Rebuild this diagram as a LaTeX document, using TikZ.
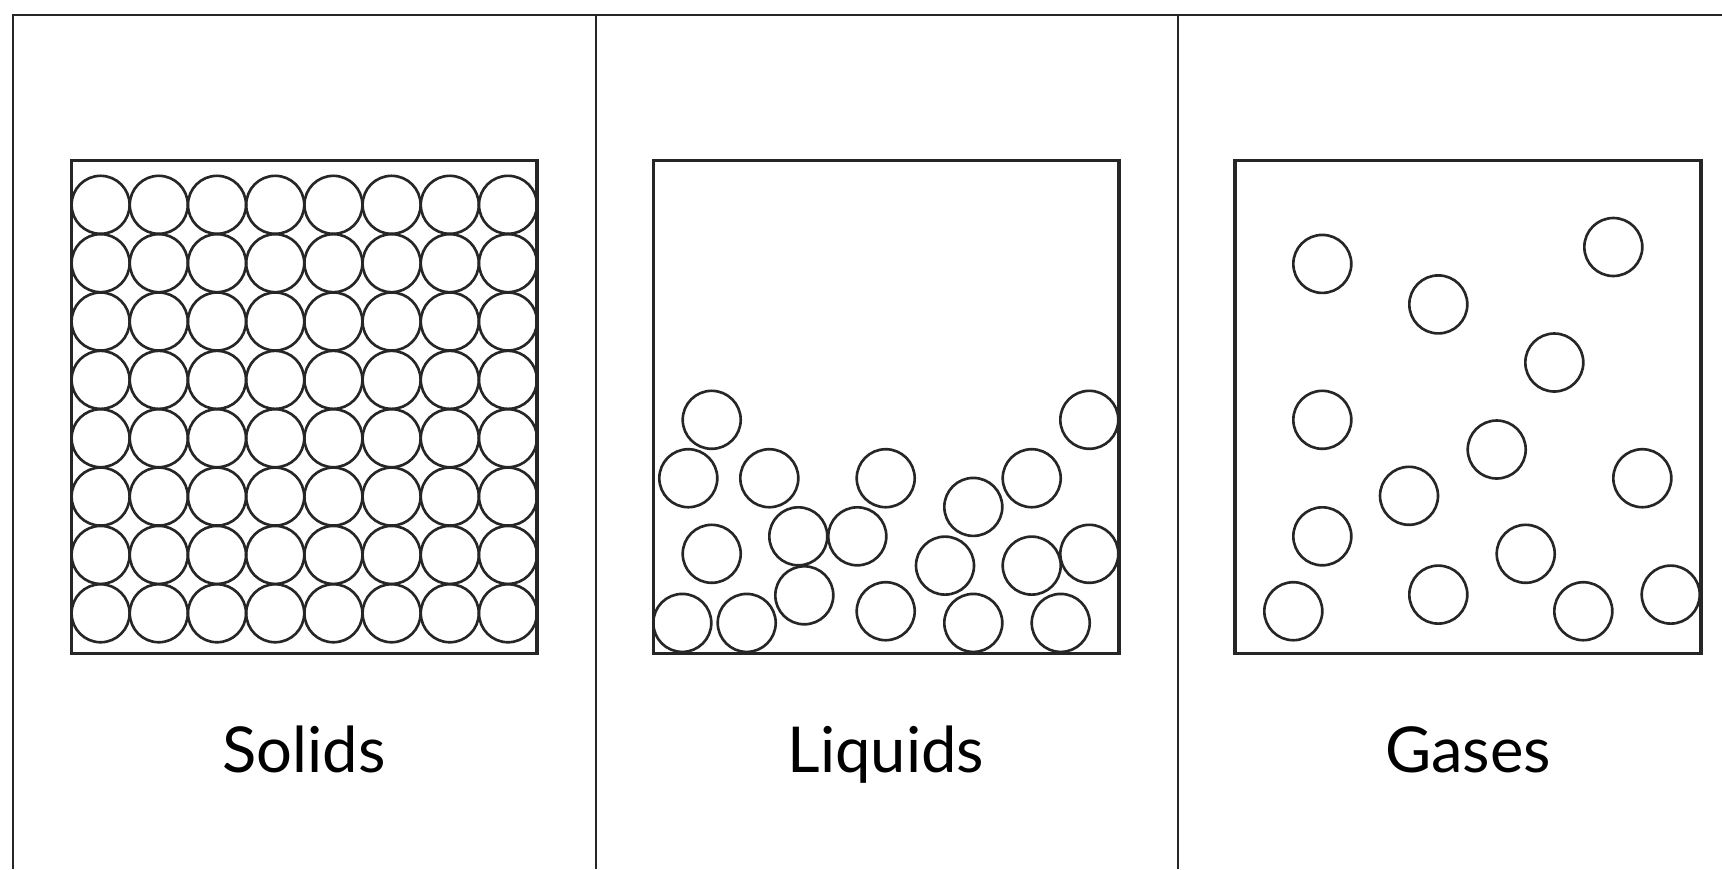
\documentclass[tikz,border=0pt]{standalone}
\usepackage{fontspec}
\setmainfont{Lato}
\usetikzlibrary{positioning}

\begin{document}
\begin{tikzpicture}[
  x=0.01cm, y=-0.01cm,
  frame/.style={draw=black!85, line width=0.8pt},
  vessel/.style={draw=black!85, line width=0.9pt},
  particle/.style={draw=black!85, line width=0.75pt},
  caption/.style={font=\fontsize{18}{20}\selectfont, anchor=base, inner sep=0pt}
]
\useasboundingbox (0,0) rectangle (1722,869);

% panels
\draw[frame] (13,869) -- (13,15) -- (1722,15);
\draw[frame] (596,15) -- (596,869);
\draw[frame] (1178,15) -- (1178,869);

% containers
\draw[vessel] (71.5,160.5) rectangle (537,653.5);
\draw[vessel] (653.5,160.5) rectangle (1119,653.5);
\draw[vessel] (1235,160.5) rectangle (1701,653.5);

% solid: packed lattice
\foreach \i in {0,...,7}
  \foreach \j in {0,...,7}
    \draw[particle] (100.6+58.2*\i, 204.8+58.35*\j) circle (29);

% liquid: loose pile at the bottom
\foreach \px/\py in {711.7/419.8, 688.3/478.2, 769.3/478.2, 885.7/478.2,
    1031.7/478.2, 1089.3/419.8, 711.7/553.8, 798.3/536.3, 857.3/536.3,
    973.3/506.9, 945/565.6, 1031.7/565.6, 1089.3/553.8, 682.3/622.9,
    746.7/622.9, 804.3/595.3, 885.7/611.2, 973.3/622.9, 1060.7/622.9}
  \draw[particle] (\px,\py) circle (29);

% gas: spread out
\foreach \px/\py in {1322.3/263.9, 1438.3/304.4, 1613.3/247, 1554.3/362.5,
    1322.3/419.8, 1496.7/449.5, 1409/495.8, 1642.3/478.2, 1322.3/536.3,
    1525.7/553.8, 1293.3/611.2, 1438.3/594.6, 1583.3/611.2, 1670.7/594.6}
  \draw[particle] (\px,\py) circle (29);

% captions
\node[caption] (solids) at (304,772) {Solids};
\node[caption] (liquids) at (886,772) {Liquids};
\node[caption] (gases) at (1468,772) {Gases};
\end{tikzpicture}
\end{document}
